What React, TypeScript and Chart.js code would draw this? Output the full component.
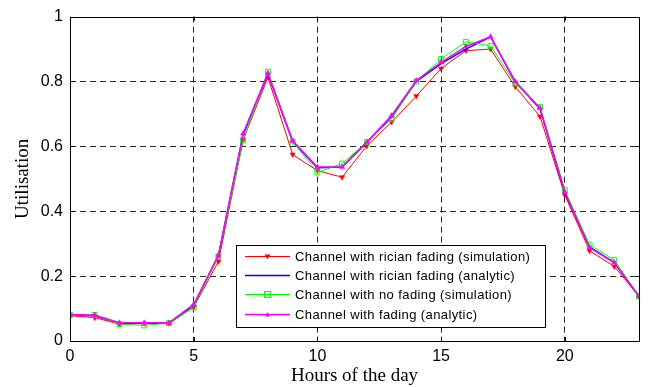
import React, { useEffect, useRef } from "react";
import { Chart, registerables } from "chart.js";
Chart.register(...registerables);

const hours = [0, 1, 2, 3, 4, 5, 6, 7, 8, 9, 10, 11, 12, 13, 14, 15, 16, 17, 18, 19, 20, 21, 22, 23];
const xTickValues = [0, 5, 10, 15, 20];
const yTickValues = [0, 0.2, 0.4, 0.6, 0.8, 1];

const ricianSim = [0.078, 0.072, 0.052, 0.054, 0.054, 0.104, 0.245, 0.62, 0.813, 0.575, 0.525, 0.505, 0.602, 0.675, 0.755, 0.84, 0.895, 0.9, 0.784, 0.692, 0.45, 0.278, 0.23, 0.138];
const ricianAnalytic = [0.08, 0.078, 0.055, 0.055, 0.055, 0.11, 0.262, 0.636, 0.824, 0.615, 0.534, 0.536, 0.613, 0.692, 0.8, 0.855, 0.9, 0.938, 0.798, 0.716, 0.458, 0.29, 0.242, 0.138];
const noFadingSim = [0.08, 0.08, 0.052, 0.048, 0.055, 0.104, 0.26, 0.62, 0.83, 0.615, 0.52, 0.547, 0.613, 0.685, 0.8, 0.869, 0.922, 0.91, 0.794, 0.721, 0.465, 0.297, 0.25, 0.138];
const fadingAnalytic = [0.082, 0.08, 0.056, 0.056, 0.056, 0.113, 0.265, 0.64, 0.826, 0.617, 0.536, 0.536, 0.613, 0.695, 0.803, 0.859, 0.908, 0.938, 0.8, 0.718, 0.46, 0.288, 0.242, 0.138];

const seriesNames = [
  "Channel with rician fading (simulation)",
  "Channel with rician fading (analytic)",
  "Channel with no fading (simulation)",
  "Channel with fading (analytic)",
];
const xTitle = "Hours of the day";
const yTitle = "Utilisation";

const toPoints = (vals: number[]) => vals.map((v, i) => ({ x: hours[i], y: v }));

const framePlugin = {
  id: "frameAndLegend",
  afterDatasetsDraw(chart: any) {
    const { ctx, chartArea } = chart;
    const { left, right, top, bottom } = chartArea;
    const xs = chart.scales.x;
    const ys = chart.scales.y;
    ctx.save();
    ctx.setLineDash([]);
    ctx.strokeStyle = "#000";
    ctx.lineWidth = 1;
    ctx.strokeRect(Math.round(left) + 0.5, Math.round(top) + 0.5, Math.round(right - left), Math.round(bottom - top));
    const tl = 4;
    ctx.beginPath();
    for (const v of xTickValues) {
      const px = Math.round(xs.getPixelForValue(v)) + 0.5;
      ctx.moveTo(px, bottom);
      ctx.lineTo(px, bottom - tl);
      ctx.moveTo(px, top);
      ctx.lineTo(px, top + tl);
    }
    for (const v of yTickValues) {
      const py = Math.round(ys.getPixelForValue(v)) + 0.5;
      ctx.moveTo(left, py);
      ctx.lineTo(left + tl, py);
      ctx.moveTo(right, py);
      ctx.lineTo(right - tl, py);
    }
    ctx.stroke();

    // legend
    const bx = 236, by = 245, bw = 309, bh = 82;
    ctx.fillStyle = "#fff";
    ctx.fillRect(bx, by, bw, bh);
    ctx.strokeStyle = "#000";
    ctx.lineWidth = 1;
    ctx.strokeRect(bx + 0.5, by + 0.5, bw, bh);
    const rowY = [256.5, 275.5, 294.5, 314.5];
    ctx.font = "13px 'Liberation Sans', Arial, sans-serif";
    try {
      ctx.letterSpacing = "0.4px";
    } catch (e) {}
    ctx.textBaseline = "middle";
    chart.data.datasets.forEach((ds: any, i: number) => {
      const y = rowY[i];
      ctx.strokeStyle = ds.borderColor;
      ctx.lineWidth = ds.borderWidth;
      ctx.beginPath();
      ctx.moveTo(245, y);
      ctx.lineTo(290, y);
      ctx.stroke();
      const mx = 267.5;
      if (i === 0) {
        ctx.fillStyle = ds.borderColor;
        ctx.beginPath();
        ctx.moveTo(mx - 3, y - 2);
        ctx.lineTo(mx + 3, y - 2);
        ctx.lineTo(mx, y + 3);
        ctx.closePath();
        ctx.fill();
      } else if (i === 2) {
        ctx.lineWidth = 1;
        ctx.strokeRect(mx - 3, y - 3, 6, 6);
      } else if (i === 3) {
        ctx.fillStyle = ds.borderColor;
        ctx.beginPath();
        ctx.moveTo(mx - 2.5, y + 2);
        ctx.lineTo(mx + 2.5, y + 2);
        ctx.lineTo(mx, y - 2.5);
        ctx.closePath();
        ctx.fill();
      }
      ctx.fillStyle = "#000";
      ctx.fillText(ds.label, 295, y + 0.5);
    });
    ctx.restore();
  },
};

export default function App() {
  const ref = useRef<HTMLCanvasElement | null>(null);
  useEffect(() => {
    document.body.style.margin = "0";
    const canvas = ref.current;
    if (!canvas) return;
    const gridColor = (max: number) => (c: any) =>
      c.tick && (c.tick.value === 0 || c.tick.value === max) ? "rgba(0,0,0,0)" : "#262626";
    const chart = new Chart(canvas, {
      type: "line",
      data: {
        datasets: [
          {
            label: seriesNames[0],
            data: toPoints(ricianSim),
            borderColor: "#ff0000",
            backgroundColor: "#ff0000",
            borderWidth: 1,
            pointStyle: "triangle",
            pointRotation: 180,
            pointRadius: 3,
            pointBorderWidth: 0.5,
            order: 4,
          },
          {
            label: seriesNames[1],
            data: toPoints(ricianAnalytic),
            borderColor: "#0000ff",
            backgroundColor: "#0000ff",
            borderWidth: 1.5,
            pointRadius: 0,
            order: 3,
          },
          {
            label: seriesNames[2],
            data: toPoints(noFadingSim),
            borderColor: "#00ff00",
            backgroundColor: "rgba(0,0,0,0)",
            borderWidth: 1,
            pointStyle: "rect",
            pointRadius: 3.5,
            pointBorderWidth: 1,
            order: 2,
          },
          {
            label: seriesNames[3],
            data: toPoints(fadingAnalytic),
            borderColor: "#ff00ff",
            backgroundColor: "#ff00ff",
            borderWidth: 1.5,
            pointStyle: "triangle",
            pointRadius: 3,
            pointBorderWidth: 0.5,
            order: 1,
          },
        ],
      },
      options: {
        responsive: false,
        animation: false,
        devicePixelRatio: 1,
        layout: { padding: { top: 13, right: 16, left: 0, bottom: 0 } },
        plugins: { legend: { display: false }, tooltip: { enabled: false } },
        elements: { line: { tension: 0 } },
        scales: {
          x: {
            type: "linear",
            min: 0,
            max: 23,
            afterBuildTicks: (s: any) => {
              s.ticks = xTickValues.map((v) => ({ value: v }));
            },
            afterFit: (s: any) => {
              s.height = 46;
            },
            grid: { color: gridColor(23), lineWidth: 1, drawTicks: false },
            border: { display: false, dash: [6, 4] },
            ticks: {
              color: "#000",
              padding: 6,
              maxRotation: 0,
              font: { family: "'Liberation Sans', Arial, sans-serif", size: 16 },
            },
            title: {
              display: true,
              text: xTitle,
              color: "#000",
              padding: { top: 0, bottom: 0 },
              font: { family: "'Liberation Serif', 'Times New Roman', serif", size: 19 },
            },
          },
          y: {
            type: "linear",
            min: 0,
            max: 1,
            afterBuildTicks: (s: any) => {
              s.ticks = yTickValues.map((v) => ({ value: v }));
            },
            afterFit: (s: any) => {
              s.width = 70;
            },
            grid: { color: gridColor(1), lineWidth: 1, drawTicks: false },
            border: { display: false, dash: [6, 4] },
            ticks: {
              color: "#000",
              padding: 7,
              callback: (v: any) => String(Math.round(Number(v) * 10) / 10),
              font: { family: "'Liberation Sans', Arial, sans-serif", size: 16 },
            },
            title: {
              display: true,
              text: yTitle,
              color: "#000",
              padding: { top: 12, bottom: 0 },
              font: { family: "'Liberation Serif', 'Times New Roman', serif", size: 19 },
            },
          },
        },
      },
      plugins: [framePlugin],
    } as any);
    return () => chart.destroy();
  }, []);
  return (
    <div style={{ position: "absolute", left: 0, top: 0, width: 655, height: 387, background: "#fff" }}>
      <canvas ref={ref} width={655} height={387} />
    </div>
  );
}
